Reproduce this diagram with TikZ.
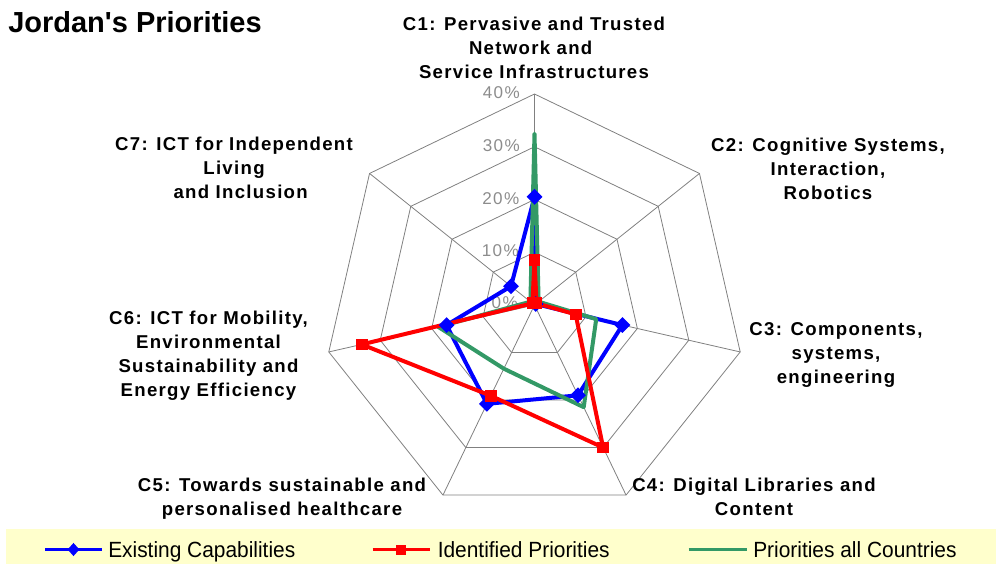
\documentclass[tikz,border=0pt]{standalone}
\usepackage{fontspec}
\setmainfont{Liberation Sans}
\newfontfamily\catfont[LetterSpace=7]{Liberation Sans}
\newfontfamily\axfont[LetterSpace=8]{Liberation Sans}
\usetikzlibrary{shapes.geometric}
\definecolor{gridgray}{RGB}{128,128,128}
\definecolor{axgray}{RGB}{140,140,140}
\definecolor{serblue}{RGB}{0,0,255}
\definecolor{serred}{RGB}{255,0,0}
\definecolor{sergreen}{RGB}{51,153,102}
\definecolor{legbg}{RGB}{255,255,204}
\tikzset{
  gridline/.style={draw=gridgray, line width=0.6pt},
  serline/.style={line width=3pt, line join=round},
  diam/.style={diamond, fill=serblue, inner sep=0pt, minimum width=12pt, minimum height=12pt},
  sqm/.style={rectangle, fill=serred, inner sep=0pt, minimum size=8.8pt},
  ldiam/.style={diamond, fill=serblue, inner sep=0pt, minimum width=9pt, minimum height=10pt},
  lsqm/.style={rectangle, fill=serred, inner sep=0pt, minimum size=7.5pt},
  cat/.style={align=center, inner sep=0pt, font=\catfont\bfseries\fontsize{13.95pt}{17.85pt}\selectfont},
  axislab/.style={anchor=east, inner sep=0pt, text=axgray, font=\axfont\fontsize{12.8pt}{13pt}\selectfont},
  legtext/.style={anchor=base west, inner sep=0pt, font=\fontsize{16.5pt}{18pt}\selectfont},
  legline/.style={line width=2.6pt}
}
\begin{document}
\begin{tikzpicture}[x=0.75pt, y=-0.75pt]
\useasboundingbox (0,0) rectangle (1004,564);
\def\cx{534.5}\def\cy{305}\def\u{5.275}
\coordinate (O) at (\cx,\cy);
% grid coordinates
\foreach \k in {1,...,7}{
  \pgfmathsetmacro\ang{90-(\k-1)*360/7}
  \foreach \r in {1,2,3,4}{
    \coordinate (g\r-\k) at ({\cx+\u*10*\r*cos(\ang)},{\cy-\u*10*\r*sin(\ang)});
  }
}
% spokes
\foreach \k in {1,...,7}{\draw[gridline] (O) -- (g4-\k);}
% rings
\foreach \r in {1,2,3,4}{
  \draw[gridline] (g\r-1) -- (g\r-2) -- (g\r-3) -- (g\r-4) -- (g\r-5) -- (g\r-6) -- (g\r-7) -- cycle;
}
% axis labels
\node[axislab] (t40) at (520,{\cy-40*\u-1}) {40\%};
\node[axislab] (t30) at (520,{\cy-30*\u-1}) {30\%};
\node[axislab] (t20) at (519.5,{\cy-20*\u-1}) {20\%};
\node[axislab] (t10) at (519,{\cy-10*\u-1.5}) {10\%};
\node[axislab] (t0) at (518,{\cy-2}) {0\%};
% data points
\foreach \k/\v in {1/20.5,2/0.3,3/17.1,4/19.0,5/20.8,6/17.1,7/5.7}{
  \pgfmathsetmacro\ang{90-(\k-1)*360/7}
  \coordinate (b\k) at ({\cx+\u*\v*cos(\ang)},{\cy-\u*\v*sin(\ang)});
}
\foreach \k/\v in {1/8.5,2/0.5,3/8.0,4/30.0,5/19.1,6/33.6,7/0.5}{
  \pgfmathsetmacro\ang{90-(\k-1)*360/7}
  \coordinate (r\k) at ({\cx+\u*\v*cos(\ang)},{\cy-\u*\v*sin(\ang)});
}
\foreach \k/\v in {1/32.5,2/1.0,3/12.0,4/21.5,5/13.4,6/18.7,7/1.0}{
  \pgfmathsetmacro\ang{90-(\k-1)*360/7}
  \coordinate (s\k) at ({\cx+\u*\v*cos(\ang)},{\cy-\u*\v*sin(\ang)});
}
% series lines
\draw[serline, serblue] (b1) -- (b2) -- (b3) -- (b4) -- (b5) -- (b6) -- (b7) -- cycle;
\draw[serline, sergreen] (s1) -- (s2) -- (s3) -- (s4) -- (s5) -- (s6) -- (s7) -- cycle;
\draw[serline, serred] (r1) -- (r2) -- (r3) -- (r4) -- (r5) -- (r6) -- (r7) -- cycle;
% markers
\foreach \k in {1,...,7}{\node[diam] (mb\k) at (b\k) {};}
\foreach \k in {1,...,7}{\node[sqm] (mr\k) at (r\k) {};}
% title
\node[anchor=base west, inner sep=0pt, font=\bfseries\fontsize{21.75pt}{24pt}\selectfont] (title) at (8,32.5) {Jordan\textquotesingle s Priorities};
% category labels
\node[cat] (c1) at (534,48.1) {C1: Pervasive and Trusted\\Network and\makebox[5pt]{}\\Service Infrastructures};
\node[cat] (c2) at (828,168.8) {C2: Cognitive Systems,\\Interaction,\\Robotics};
\node[cat] (c3) at (836,355) {C3: Components,\\systems,\\engineering};
\node[cat] (c4) at (754,497.2) {C4: Digital Libraries and\\Content};
\node[cat] (c5) at (282,499) {C5: Towards sustainable and\\personalised healthcare};
\node[cat] (c6) at (208.5,355.8) {C6: ICT for Mobility,\\Environmental\\Sustainability and\\Energy Efficiency};
\node[cat] (c7) at (234,167.7) {C7: ICT for Independent\\Living\\\makebox[10pt]{}and Inclusion};
% legend
\path[fill=legbg] (6,529) rectangle (996,564);
\coordinate (lb1) at (45,549.5); \coordinate (lb2) at (102,549.5);
\coordinate (lr1) at (372.5,549.5); \coordinate (lr2) at (430,549.5);
\coordinate (lg1) at (688.5,549.5); \coordinate (lg2) at (746.5,549.5);
\draw[legline, serblue] (lb1) -- (lb2);
\node[ldiam] (lbm) at (73.5,549.5) {};
\draw[legline, serred] (lr1) -- (lr2);
\node[lsqm] (lrm) at (401,549.5) {};
\draw[legline, sergreen] (lg1) -- (lg2);
\node[legtext] (lbt) at (108,557.4) {\scalebox{0.95}[1]{Existing Capabilities}};
\node[legtext] (lrt) at (437.5,557.4) {\scalebox{0.95}[1]{Identified Priorities}};
\node[legtext] (lgt) at (753,557.4) {\scalebox{0.95}[1]{Priorities all Countries}};
\end{tikzpicture}
\end{document}
